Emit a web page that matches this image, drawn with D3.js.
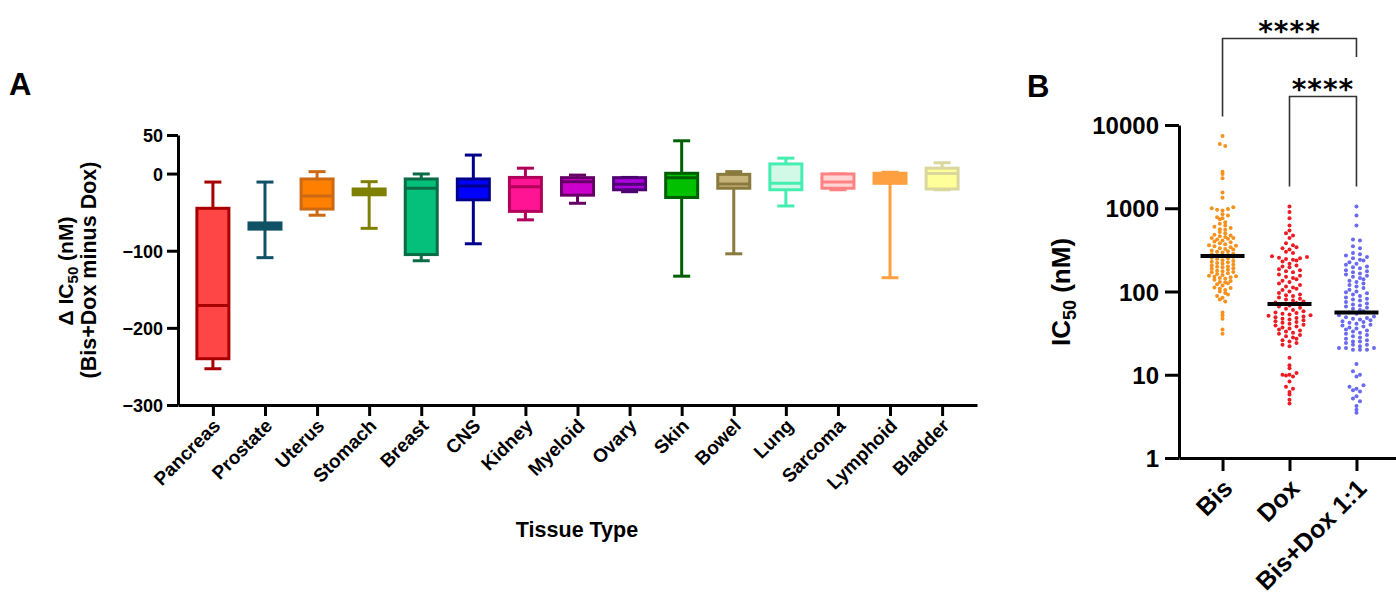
<!DOCTYPE html>
<html>
<head>
<meta charset="utf-8">
<script src="https://cdn.jsdelivr.net/npm/d3@7"></script>
<style>
    body { margin: 0; background: #fff; }
    text { font-family: Arial, "Liberation Sans", sans-serif; font-weight: bold; fill: #000; }
</style>
</head>
<body>
<svg id="fig" width="1396" height="595"></svg>
<script>
// ---- panel A data: delta IC50 box plots per tissue ----
const tissues = ['Pancreas','Prostate','Uterus','Stomach','Breast','CNS','Kidney','Myeloid','Ovary','Skin','Bowel','Lung','Sarcoma','Lymphoid','Bladder'];
const whiskerHigh = [-11, -11, 2.5, -10.5, -0.5, 24, 7, -2, -5, 42.5, 2.5, 20, -0.5, 1.7, 14];
const quart3 = [-45, -64, -7, -20, -7, -7, -5, -5.3, -5.3, 0.4, -1, 12.5, -0.5, 0.4, 7];
const medians = [-171, -68, -29, -23.5, -19, -16, -17, -10.5, -14, -5.3, -13.5, -12.6, -11, -6, 0];
const quart1 = [-240, -72, -46, -27.5, -105, -34, -49, -28, -21, -31, -19, -21, -19, -12.6, -20];
const whiskerLow = [-253, -109, -54, -71, -113, -91, -60, -38.5, -23.5, -133, -104, -42, -21, -135, -21];
const boxFill = ['#ff4646','#0f5266','#ff7f00','#858500','#05c07a','#0000ff','#ff1493','#cc00cc','#aa00dd','#00c000','#c6b47a','#d2f8e8','#ffd6d6','#ffa040','#ffff99'];
const boxStroke = ['#a80000','#0f5266','#cc6a14','#808000','#0a6b45','#00008b','#b0005a','#660066','#4f0073','#005f00','#8b7a3d','#44eeb0','#ff8282','#ffa040','#d9d69e'];
const yTicksA = [50, 0, -100, -200, -300];

// ---- panel B data: IC50 per cell line (nM) ----
const groups = ['Bis', 'Dox', 'Bis+Dox 1:1'];
const bisValues = [7400, 5900, 5600, 2750, 2580, 2290, 1550, 1340,
    1030, 1000, 980, 960, 940, 850, 820, 780, 760, 740,
    680, 650, 620, 600, 580, 560, 550,
    520, 500, 480, 470, 460, 450, 440, 440, 430, 420, 410,
    400, 390, 380, 370, 360, 355, 350, 340, 330, 325, 320, 310, 305, 300, 295,
    285, 280, 275, 270, 265, 260, 255, 250, 245,
    238, 232, 228, 225, 220, 215, 210, 205, 200, 198, 195, 190,
    188, 182, 178, 175, 172, 170, 166, 162, 158, 155, 152, 150,
    148, 145, 142, 138, 134, 130, 128, 126, 122, 118,
    112, 110, 108, 104, 100, 96, 92, 88, 84, 80, 76,
    56, 52, 47, 35, 31];
const doxValues = [1050, 900, 760, 620, 540, 500, 470, 440,
    380, 360, 340, 330, 320, 300, 290,
    265, 260, 255, 250, 245, 240, 235, 230,
    215, 205, 200, 195, 185, 180, 175, 170,
    160, 155, 150, 145, 140, 135, 130, 125, 120, 115, 112,
    108, 104, 100, 96, 92, 90, 88, 85, 82, 80,
    78, 76, 74, 73, 71, 68, 66, 64, 62,
    60, 58, 56, 55, 54, 53, 52, 51, 50, 49, 48, 47,
    46, 45, 44, 43, 42, 41, 40, 39, 38, 37, 36, 35,
    34, 33, 32, 31, 30, 29, 28, 27, 26, 25, 24, 23, 22,
    16, 13, 12, 10.5, 10, 10, 9.8, 9.5, 8.3, 7.2, 6.8, 6.2, 5.8, 5.0, 4.5];
const comboValues = [1050, 820, 620, 420, 410, 350, 330,
    290, 280, 270, 260, 250, 240, 235,
    225, 215, 210, 200, 195, 190, 180, 175, 170, 165, 160,
    155, 150, 145, 140, 135, 130, 125, 120, 115, 110, 105, 100,
    98, 95, 92, 88, 85, 82, 80, 78, 75, 72, 70, 68, 66, 64, 62, 60, 58,
    56, 54, 52, 50, 49, 48, 47, 46, 45, 44, 43, 42, 41, 40, 39, 38, 37, 36,
    35, 34, 33, 32, 31, 30, 29, 28, 27, 26, 25, 25, 24, 23, 23, 22, 21, 21, 21, 20, 20, 20,
    13.5, 11, 10, 9.5, 7.5, 7.2, 6.8, 6.5, 6.3, 5.5, 5.2, 4.8, 4.2, 3.8, 3.5];
const dotColors = ['#f5921e', '#ec1c24', '#6a6af0'];
const yTicksB = [1, 10, 100, 1000, 10000];

const svg = d3.select('#fig');

/* PANEL A */
const yA = d3.scaleLinear().domain([-300, 50]).range([405, 135]);
const xA = d3.scalePoint().domain(tissues).range([178, 977]).padding(0.67);

const boxes = tissues.map((t, i) => ({t, hi: whiskerHigh[i], q3: quart3[i], med: medians[i], q1: quart1[i], lo: whiskerLow[i], fill: boxFill[i], stroke: boxStroke[i]}));
const boxW = 32, capW = 17;

const boxG = svg.append('g').attr('class', 'boxes')
    .selectAll('g')
    .data(boxes)
    .join('g')
    .attr('transform', d => `translate(${xA(d.t)},0)`);

// whisker line and caps
boxG.append('line')
    .attr('x1', 0).attr('x2', 0)
    .attr('y1', d => yA(d.hi)).attr('y2', d => yA(d.lo))
    .attr('stroke', d => d.stroke).attr('stroke-width', 3);
boxG.selectAll('.cap')
    .data(d => [d.hi, d.lo].map(v => ({v, stroke: d.stroke})))
    .join('line')
    .attr('class', 'cap')
    .attr('x1', -capW / 2).attr('x2', capW / 2)
    .attr('y1', d => yA(d.v)).attr('y2', d => yA(d.v))
    .attr('stroke', d => d.stroke).attr('stroke-width', 3);
// box
boxG.append('rect')
    .attr('x', -boxW / 2).attr('width', boxW)
    .attr('y', d => yA(d.q3)).attr('height', d => yA(d.q1) - yA(d.q3))
    .attr('fill', d => d.fill).attr('stroke', d => d.stroke).attr('stroke-width', 3);
// median
boxG.append('line')
    .attr('x1', -boxW / 2).attr('x2', boxW / 2)
    .attr('y1', d => yA(d.med)).attr('y2', d => yA(d.med))
    .attr('stroke', d => d.stroke).attr('stroke-width', 3);

// axes A
const axisYA = svg.append('g')
    .attr('transform', 'translate(178,0)')
    .call(d3.axisLeft(yA).tickValues(yTicksA).tickSize(11).tickSizeOuter(0).tickPadding(4).tickFormat(d3.format('d')));
axisYA.selectAll('text').style('font-size', '18px').attr('dy', '0.36em');

const axisXA = svg.append('g')
    .attr('transform', 'translate(0,405)')
    .call(d3.axisBottom(xA).tickSize(11).tickSizeOuter(0));
axisXA.selectAll('text')
    .style('font-size', '19px')
    .style('text-anchor', 'end')
    .attr('x', 0).attr('y', 0).attr('dy', 0)
    .attr('transform', 'translate(8,22) rotate(-45)');

svg.selectAll('.domain').attr('stroke', '#000').attr('stroke-width', 3);
svg.selectAll('.tick line').attr('stroke', '#000').attr('stroke-width', 3);

// axis titles A
const yTitleA = svg.append('text')
    .attr('transform', 'translate(73,271) rotate(-90)')
    .attr('text-anchor', 'middle')
    .style('font-size', '21px');
yTitleA.append('tspan').text('Δ IC');
yTitleA.append('tspan').text('50').style('font-size', '15px').attr('dy', '5');
yTitleA.append('tspan').text(' (nM)').attr('dy', '-5');
svg.append('text')
    .attr('transform', 'translate(96,270) rotate(-90)')
    .attr('text-anchor', 'middle')
    .style('font-size', '21.5px')
    .text('(Bis+Dox minus Dox)');
svg.append('text')
    .attr('x', 577).attr('y', 537)
    .attr('text-anchor', 'middle')
    .style('font-size', '21.5px')
    .text('Tissue Type');
svg.append('text').attr('x', 9).attr('y', 95).style('font-size', '31px').text('A');

/* PANEL B */
const yB = d3.scaleLog().domain([1, 10000]).range([458, 125]);
const xB = d3.scalePoint().domain(groups).range([1179, 1400]).padding(0.65);
const seriesB = [bisValues, doxValues, comboValues];
const spacing = [5.4, 7, 7];
const rowH = [3.8, 4.6, 4.6];

// binned scatter: points sharing a row are spread sideways around the group centre
seriesB.forEach((vals, gi) => {
    const cx = xB(groups[gi]);
    const pts = vals.map(v => ({v, y: yB(v)}));
    const rows = d3.group(pts, p => Math.round(p.y / rowH[gi]));
    rows.forEach(row => {
        row.sort((a, b) => a.v - b.v);
        const n = row.length;
        row.forEach((p, i) => {
            const j = n % 2 ? Math.ceil(i / 2) : Math.floor(i / 2) + 0.5;
            p.x = cx + (i % 2 ? -1 : 1) * j * spacing[gi];
        });
    });
    svg.append('g')
        .selectAll('circle')
        .data(pts)
        .join('circle')
        .attr('cx', d => d.x)
        .attr('cy', d => d.y)
        .attr('r', 2)
        .attr('fill', dotColors[gi]);
    const m = d3.median(vals);
    svg.append('line')
        .attr('x1', cx - 22).attr('x2', cx + 22)
        .attr('y1', yB(m)).attr('y2', yB(m))
        .attr('stroke', '#000').attr('stroke-width', 4);
});

const axisYB = svg.append('g')
    .attr('transform', 'translate(1179,0)')
    .call(d3.axisLeft(yB).tickValues(yTicksB).tickSize(14).tickSizeOuter(0).tickPadding(6).tickFormat(d3.format('d')));
axisYB.selectAll('text').style('font-size', '24px').attr('dy', '0.36em');

const axisXB = svg.append('g')
    .attr('transform', 'translate(0,458)')
    .call(d3.axisBottom(xB).tickSize(13).tickSizeOuter(0));
axisXB.selectAll('text')
    .style('font-size', '25px')
    .style('text-anchor', 'end')
    .attr('x', 0).attr('y', 0).attr('dy', 0)
    .attr('transform', 'translate(11,32) rotate(-45)');

axisYB.selectAll('.domain, .tick line').attr('stroke', '#000').attr('stroke-width', 3);
axisXB.selectAll('.domain, .tick line').attr('stroke', '#000').attr('stroke-width', 3);

const yTitleB = svg.append('text')
    .attr('transform', 'translate(1070,292) rotate(-90)')
    .attr('text-anchor', 'middle')
    .style('font-size', '26px');
yTitleB.append('tspan').text('IC');
yTitleB.append('tspan').text('50').style('font-size', '18px').attr('dy', '6');
yTitleB.append('tspan').text(' (nM)').attr('dy', '-6');
svg.append('text').attr('x', 1027).attr('y', 97).style('font-size', '31px').text('B');

// significance brackets
const brackets = [
    {a: 'Bis', b: 'Bis+Dox 1:1', top: 38.5, la: 116.5, lb: 57},
    {a: 'Dox', b: 'Bis+Dox 1:1', top: 96.5, la: 186.5, lb: 186.5}
];
brackets.forEach(br => {
    svg.append('path')
        .attr('d', `M${xB(br.a)},${br.la}V${br.top}H${xB(br.b)}V${br.lb}`)
        .attr('fill', 'none').attr('stroke', '#333').attr('stroke-width', 1.6);
    svg.append('text')
        .attr('x', (xB(br.a) + xB(br.b)) / 2)
        .attr('y', br.top + 2)
        .attr('text-anchor', 'middle')
        .style('font-family', '"DejaVu Sans", sans-serif')
        .style('font-size', '28px')
        .style('letter-spacing', '1px')
        .text('****');
});
</script>
</body>
</html>
